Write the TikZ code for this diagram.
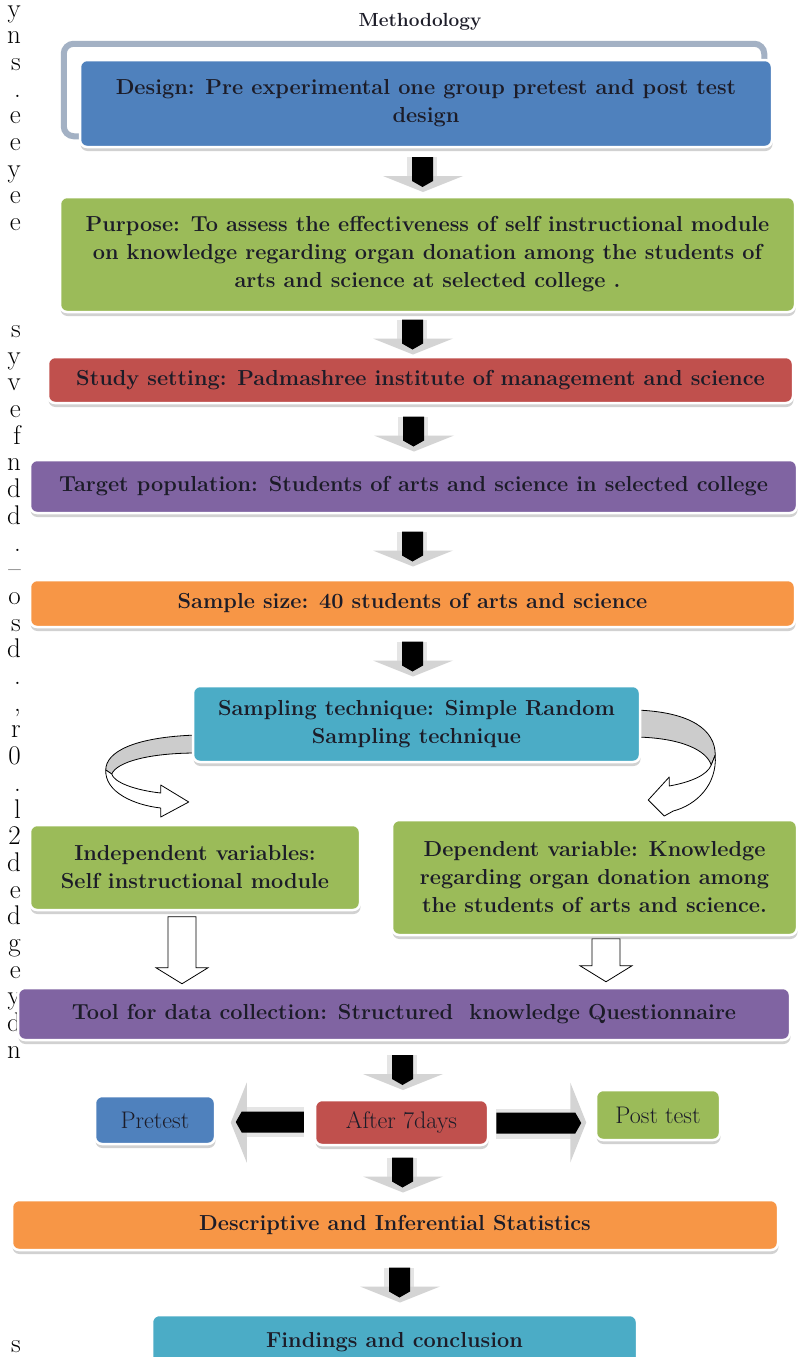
\documentclass[tikz,border=0pt]{standalone}
\usepackage{fontspec}
\usetikzlibrary{shadows,calc,backgrounds}
\definecolor{cblue}{HTML}{4F81BD}
\definecolor{cgreen}{HTML}{9BBB59}
\definecolor{cred}{HTML}{C0504D}
\definecolor{cpurple}{HTML}{8064A2}
\definecolor{corange}{HTML}{F79646}
\definecolor{cteal}{HTML}{4BACC6}
\definecolor{cframe}{HTML}{A3B1C4}
\definecolor{ctext}{HTML}{1C1C28}
\newcommand\bxfont{\fontsize{21.7}{28}\selectfont\bfseries}
\newcommand\rgfont{\fontsize{24}{26}\selectfont}
\newcommand\mgfont{\fontsize{27}{27}\selectfont}
\newcommand\vblk[3]{\coordinate (tmp) at (#3,0);
  \pic at ($(tmp|-#1.south)!.5!(tmp|-#2.north)+(0,15)$) {blk=30};}
\begin{document}
\begin{tikzpicture}[x=1pt,y=-1pt,
  box/.style={rounded corners=7pt, draw=white, line width=2.5pt, inner sep=0pt,
    align=center, text=ctext, font=\bxfont,
    drop shadow={shadow xshift=0.5pt, shadow yshift=-4pt, fill=black!40, opacity=0.45}},
  sbox/.style={box, font=\rgfont},
  curv/.style={draw=black, line width=0.8pt, line join=round},
  pics/blk/.style={code={
    \fill[black!10] (-16,-#1) rectangle (14,-6);
    \fill[black!17] (-40,-11) -- (40,-11) -- (0,5) -- cycle;
    \fill[black] (-11,-#1) -- (10,-#1) -- (10,-6) -- (-0.5,0) -- (-11,-6) -- cycle;
  }},
  pics/hollow/.style={code={
    \draw[fill=white, line width=0.8pt, line join=miter]
      (-14,-#1) -- (14,-#1) -- (14,-16) -- (26,-16) -- (0,0) -- (-26,-16) -- (-14,-16) -- cycle;
  }}]
\useasboundingbox (0,0) rectangle (799,1357);

% margin text fragments
\foreach \r/\l in {1/y,2/n,3/s,4/.,5/e,6/e,7/y,8/e,9/e,13/s,14/y,15/v,16/e,17/f,18/n,19/d,20/d,21/.,22/\textendash,23/o,24/s,25/d,26/.,27/{,},28/r,29/0,30/.,31/l,32/2,33/d,34/e,35/d,36/g,37/e,38/y,39/d,40/n,51/s}
  \node[anchor=base east, inner sep=0pt, font=\mgfont] (m\r) at (21,{10+(\r-1)*26.7+7}) {\l};

\node[font=\fontsize{19}{22}\selectfont\bfseries, text=ctext] (title) at (420,22) {Methodology};

\node[box, fill=cblue, minimum width=692pt, minimum height=87pt] (design) at (426,103.5)
  {Design: Pre experimental one group pretest and post test\\design};
\node[box, fill=cgreen, minimum width=735pt, minimum height=115pt] (purpose) at (427.5,254.5)
  {Purpose: To assess the effectiveness of self instructional module\\on knowledge regarding organ donation among the students of\\arts and science at selected college .};
\node[box, fill=cred, minimum width=745pt, minimum height=46pt] (study) at (420.5,380)
  {Study setting: Padmashree institute of management and science};
\node[box, fill=cpurple, minimum width=767pt, minimum height=53pt] (target) at (413.5,486.5)
  {Target population: Students of arts and science in selected college};
\node[box, fill=corange, minimum width=765pt, minimum height=47pt] (sample) at (412.5,603.5)
  {Sample size: 40 students of arts and science};
\node[box, fill=cteal, minimum width=447pt, minimum height=76pt] (samp) at (416.5,724)
  {Sampling technique: Simple Random\\Sampling technique};
\node[box, fill=cgreen, minimum width=330pt, minimum height=85pt] (indep) at (195,867.5)
  {Independent variables:\\Self instructional module};
\node[box, fill=cgreen, minimum width=405pt, minimum height=115pt] (dep) at (594.5,877.5)
  {Dependent variable: Knowledge\\regarding organ donation among\\the students of arts and science.};
\node[box, fill=cpurple, minimum width=772pt, minimum height=52pt] (tool) at (404,1014)
  {Tool for data collection: Structured\ \ knowledge Questionnaire};
\node[sbox, fill=cblue, minimum width=120pt, minimum height=48pt] (pre) at (155,1120) {Pretest};
\node[sbox, fill=cred, minimum width=173pt, minimum height=45pt] (after) at (401.5,1122.5) {After 7days};
\node[sbox, fill=cgreen, minimum width=124pt, minimum height=50pt] (post) at (658,1115) {Post test};
\node[box, fill=corange, minimum width=766pt, minimum height=50pt] (desc) at (395,1225)
  {Descriptive and Inferential Statistics};
\node[box, fill=cteal, minimum width=485pt, minimum height=55pt] (find) at (394.5,1342.5)
  {Findings and conclusion};

\begin{pgfonlayer}{background}
  \fill[white] (0,0) rectangle (799,1357);
  \draw[cframe, line width=6pt, rounded corners=10pt]
    ($(design.north west)+(-15,-15)$) rectangle ($(design.south east)+(-9,-12)$);
  \vblk{design}{purpose}{423}
  \vblk{purpose}{study}{413}
  \vblk{study}{target}{414}
  \vblk{target}{sample}{413}
  \vblk{sample}{samp}{413}
  \vblk{tool}{after}{403}
  \vblk{after}{desc}{403}
  \vblk{desc}{find}{400}
  \pic[rotate=-90] at ($(after.west)+(-78,0)$) {blk=68};
  \pic[rotate=90] at ($(after.east)+(92,0)$) {blk=85};
  \coordinate (hl) at (182,0);
  \coordinate (hr) at (606,0);
  \pic at ($(hl|-tool.north)+(0,-3)$) {hollow=67};
  \pic at ($(hr|-tool.north)+(0,-5)$) {hollow=43};
  \begin{scope}[shift={(samp.west)}]
    \draw[curv, fill=black!20] (5,11) .. controls (-58,13) and (-86,28) .. (-86,46)
      -- (-80,50) .. controls (-75,38) and (-43,29) .. (5,29) -- cycle;
    \draw[curv, fill=white] (-86,46) .. controls (-87,68) and (-58,81) .. (-31,84)
      -- (-31,93) -- (-3,78) -- (-31,61) -- (-31,69) .. controls (-58,66) and (-78,58) .. (-80,50) -- cycle;
  \end{scope}
  \begin{scope}[shift={(samp.east)}]
    \draw[curv, fill=black!20] (-5,-14) .. controls (50,-12) and (74,6) .. (74,31)
      -- (70,41) .. controls (65,26) and (40,14) .. (-5,13) -- cycle;
    \draw[curv, fill=white] (74,31) .. controls (76,61) and (55,81) .. (32,87)
      -- (23,92) -- (7,76) -- (28,53) -- (28,62) .. controls (50,58) and (66,51) .. (70,41) -- cycle;
  \end{scope}
\end{pgfonlayer}
\end{tikzpicture}
\end{document}
